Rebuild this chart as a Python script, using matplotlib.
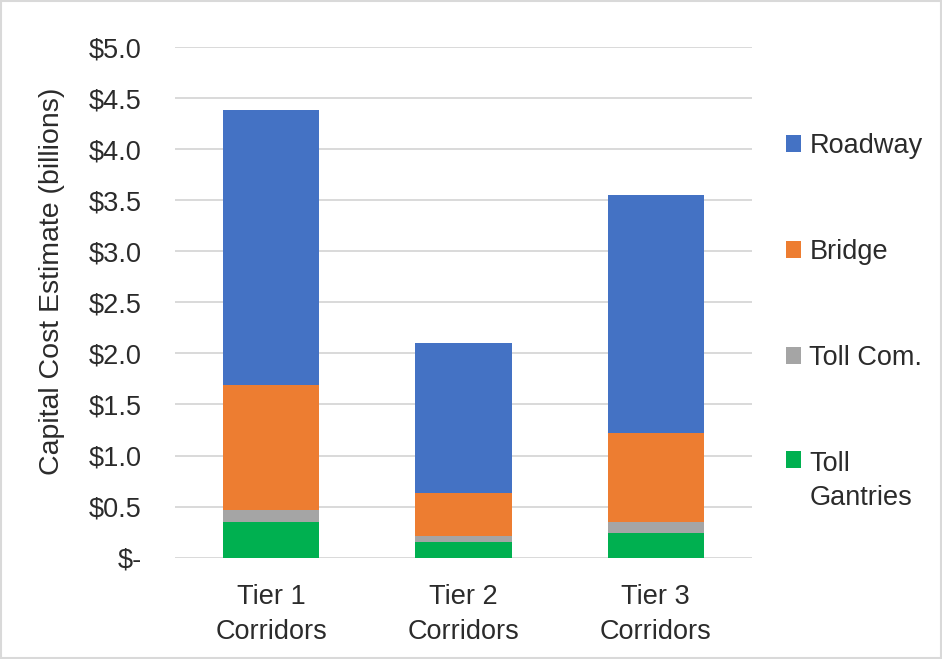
import matplotlib.pyplot as plt
from matplotlib.patches import Patch, Rectangle
import numpy as np

plt.rcParams["font.family"] = ["Liberation Sans", "DejaVu Sans"]

# Capital cost by corridor tier, in $ billions
tiers = ["Tier 1\nCorridors", "Tier 2\nCorridors", "Tier 3\nCorridors"]
toll_gantries = [0.35, 0.155, 0.245]
toll_com = [0.12, 0.06, 0.10]
bridge = [1.22, 0.42, 0.88]
roadway = [2.70, 1.47, 2.33]

series = [
    ("Toll\nGantries", toll_gantries, "#00B050"),
    ("Toll Com.", toll_com, "#A5A5A5"),
    ("Bridge", bridge, "#ED7D31"),
    ("Roadway", roadway, "#4472C4"),
]
text_color = "#2b2b2b"

fig = plt.figure(figsize=(9.42, 6.59), dpi=100)
ax = fig.add_axes([0.186, 0.154, 0.612, 0.774])

x = np.arange(len(tiers))
bottom = np.zeros(len(tiers))
for name, vals, color in series:
    ax.bar(x, vals, width=0.5, bottom=bottom, color=color,
           linewidth=0, zorder=3)
    bottom += np.array(vals)

ax.set_xlim(-0.5, 2.5)
ax.set_ylim(0, 5.0)
yticks = np.arange(0, 5.01, 0.5)
ax.set_yticks(yticks)
ax.set_yticklabels(["$-"] + [f"${v:.1f}" for v in yticks[1:]])
ax.set_xticks(x)
ax.set_xticklabels(tiers, linespacing=1.43)

ax.grid(axis="y", color="#D9D9D9", linewidth=1.4, zorder=0)
for s in ax.spines.values():
    s.set_visible(False)
ax.tick_params(axis="both", length=0, labelsize=19.5, colors=text_color)
ax.tick_params(axis="y", pad=24)
ax.tick_params(axis="x", pad=19)

fig.text(52 / 942, 1 - 281 / 659, "Capital Cost Estimate (billions)",
         rotation=90, ha="center", va="center", fontsize=20.5, color=text_color)

# legend in top-to-bottom stacking order
handles = [Patch(facecolor=c, label=n) for n, _, c in reversed(series)]
leg = fig.legend(handles=handles, loc="upper left", bbox_to_anchor=(0.808, 0.835),
                 frameon=False, fontsize=19.5, labelspacing=2.95,
                 handlelength=0.58, handleheight=0.58, handletextpad=0.3,
                 labelcolor=text_color)
leg.get_texts()[-1].set_linespacing(1.4)
# keep the swatch level with the first line of the two-line entry
leg._legend_handle_box.get_children()[0].get_children()[-1].align = "top"

# thin frame around the figure
fig.patches.append(Rectangle((0.001, 0.001), 0.998, 0.998, transform=fig.transFigure,
                             fill=False, edgecolor="#D9D9D9", linewidth=1.5))

fig.savefig("out.png", dpi=100)
